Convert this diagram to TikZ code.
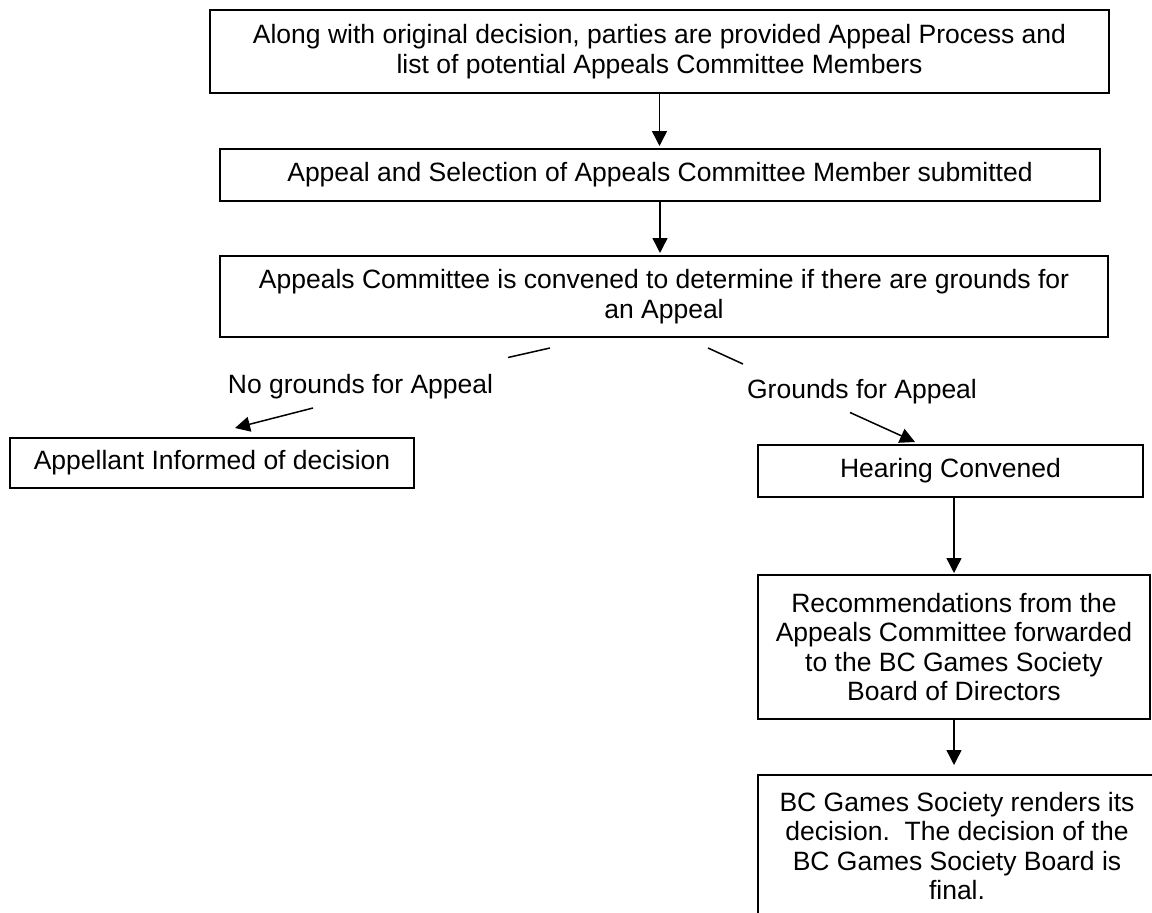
\documentclass[tikz,border=0pt]{standalone}
\usepackage{fontspec}
\setmainfont{Liberation Sans}
\usetikzlibrary{arrows.meta,calc}
\begin{document}
\begin{tikzpicture}[x=1pt,y=-1pt,
  txt/.style={font=\fontsize{26.5}{29.5}\selectfont},
  box/.style={txt, draw, line width=1.5pt, align=center, inner sep=0pt, outer sep=0pt},
  conn/.style={line width=1.5pt},
  arr/.style={line width=1.5pt, -{Triangle[length=15pt,width=15pt]}}]
\useasboundingbox (0,0) rectangle (1152,913);
\clip (0,0) rectangle (1152,913);
\fill[white] (0,0) rectangle (1152,913);

\node[box, minimum width=899pt, minimum height=83pt] (b1) at (659.5,51.5)
  {Along with original decision, parties are provided Appeal Process and\\list of potential Appeals Committee Members};
\node[box, minimum width=880pt, minimum height=52pt] (b2) at (660,175)
  {Appeal and Selection of Appeals Committee Member submitted};
\node[box, minimum width=888pt, minimum height=81pt] (b3) at (664,296.5)
  {Appeals Committee is convened to determine if there are grounds for\\an Appeal};
\node[box, minimum width=404pt, minimum height=50pt] (b4) at (212,463)
  {Appellant Informed of decision};
\node[box, minimum width=385pt, minimum height=52pt] (b5) at (950.5,471)
  {Hearing Convened};
\node[box, minimum width=392pt, minimum height=144pt] (b6) at (954,647)
  {Recommendations from the\\Appeals Committee forwarded\\to the BC Games Society\\Board of Directors};
\node[box, minimum width=398pt, minimum height=142pt] (b7) at (957,846)
  {BC Games Society renders its\\decision.\ \ The decision of the\\BC Games Society Board is\\final.};

\node[txt, anchor=base] (lno) at (360.5,393) {No grounds for Appeal};
\node[txt, anchor=base] (lyes) at (862,398) {Grounds for Appeal};

\draw[arr, shorten >=3pt] (b1.south) -- (b1.south |- b2.north);
\draw[arr, shorten >=3pt] (b2.south) -- (b2.south |- b3.north);
\draw[arr, shorten >=2pt] (b6.north |- b5.south) -- (b6.north);
\draw[arr, shorten >=10pt] (b6.south) -- (b6.south |- b7.north);

\coordinate (l1) at (550,348);
\coordinate (l2) at (508,357.5);
\coordinate (l3) at (313,408);
\coordinate (l4) at (235,428);
\draw[conn] (l1) -- (l2);
\draw[arr] (l3) -- (l4);

\coordinate (r1) at (708,348);
\coordinate (r2) at (743,364);
\coordinate (r3) at (850,412.5);
\coordinate (r4) at (915,442);
\draw[conn] (r1) -- (r2);
\draw[arr] (r3) -- (r4);
\end{tikzpicture}
\end{document}
